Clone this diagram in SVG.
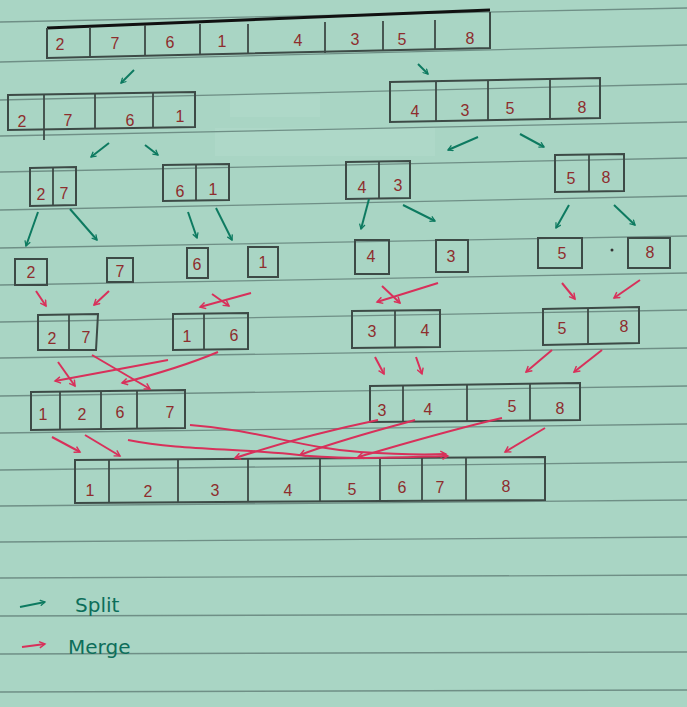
<svg xmlns="http://www.w3.org/2000/svg" width="687" height="707" viewBox="0 0 687 707">
<defs>
<marker id="ag" viewBox="0 0 10 10" refX="8" refY="5" markerWidth="7" markerHeight="7" orient="auto" markerUnits="userSpaceOnUse"><path d="M1,1 L8,5 L1,9" fill="none" stroke="#0d7a60" stroke-width="1.8"/></marker>
<marker id="ar" viewBox="0 0 10 10" refX="8" refY="5" markerWidth="8" markerHeight="8" orient="auto" markerUnits="userSpaceOnUse"><path d="M1,1 L8,5 L1,9" fill="none" stroke="#d8305a" stroke-width="1.8"/></marker>
</defs>
<style>
.paper{stroke:#6f8f86;stroke-width:1.3;fill:none}
.box{fill:none;stroke:#3d4a46;stroke-width:2}
.div{stroke:#3d4a46;stroke-width:1.8}
.n{font-family:"Liberation Sans",Arial,sans-serif;font-size:16px;fill:#8e2d2d;text-anchor:middle}
.g{fill:none;stroke:#0d7a60;stroke-width:2;marker-end:url(#ag)}
.r{fill:none;stroke:#d8305a;stroke-width:2;marker-end:url(#ar)}
.lg{font-family:"DejaVu Sans","Liberation Sans",sans-serif;font-size:20px;fill:#0d6e5a}
</style>
<rect width="687" height="707" fill="#a9d5c4"/>
<rect x="215" y="128" width="220" height="28" fill="#b8e0d1" opacity="0.35"/>
<rect x="230" y="95" width="90" height="22" fill="#b8e0d1" opacity="0.3"/>
<g id="paper-lines">
<path class="paper" d="M0,22 L687,8"/>
<path class="paper" d="M0,62 L687,45"/>
<path class="paper" d="M0,100 L687,84"/>
<path class="paper" d="M0,136 L687,122"/>
<path class="paper" d="M0,172 L687,158"/>
<path class="paper" d="M0,210 L687,196"/>
<path class="paper" d="M0,248 L687,236"/>
<path class="paper" d="M0,285 L687,273"/>
<path class="paper" d="M0,322 L687,310"/>
<path class="paper" d="M0,358 L687,348"/>
<path class="paper" d="M0,396 L687,386"/>
<path class="paper" d="M0,433 L687,424"/>
<path class="paper" d="M0,470 L687,462"/>
<path class="paper" d="M0,506 L687,500"/>
<path class="paper" d="M0,542 L687,537"/>
<path class="paper" d="M0,578 L687,575"/>
<path class="paper" d="M0,616 L687,614"/>
<path class="paper" d="M0,654 L687,652"/>
<path class="paper" d="M0,692 L687,690"/>
</g>

<g id="arr-27614358">
<path d="M47,28 L490,10" stroke="#111" stroke-width="3" fill="none"/>
<path class="box" d="M47,28 L47,58 L490,48 L490,12"/>
<path class="div" d="M90,27 L90,57 M145,25 L145,56 M200,24 L200,55 M248,24 L248,54 M325,22 L325,53 M383,21 L383,51 M435,20 L435,50"/>
<text class="n" x="60" y="50">2</text><text class="n" x="115" y="49">7</text><text class="n" x="170" y="48">6</text><text class="n" x="222" y="47">1</text><text class="n" x="298" y="46">4</text><text class="n" x="355" y="45">3</text><text class="n" x="402" y="45">5</text><text class="n" x="470" y="44">8</text>
</g>

<g id="arr-2761">
<path class="box" d="M8,95 L195,92 L195,127 L8,130 Z"/>
<path class="div" d="M44,94 L44,140 M95,93 L95,129 M153,92 L153,128"/>
<text class="n" x="22" y="127">2</text><text class="n" x="68" y="126">7</text><text class="n" x="130" y="126">6</text><text class="n" x="180" y="122">1</text>
</g>

<g id="arr-4358">
<path class="box" d="M390,82 L600,78 L600,118 L390,122 Z"/>
<path class="div" d="M436,81 L436,121 M488,80 L488,120 M550,79 L550,119"/>
<text class="n" x="415" y="117">4</text><text class="n" x="465" y="116">3</text><text class="n" x="510" y="114">5</text><text class="n" x="582" y="113">8</text>
</g>

<g id="arr-27a">
<path class="box" d="M30,168 L76,167 L76,205 L30,206 Z"/>
<path class="div" d="M53,168 L53,205"/>
<text class="n" x="41" y="200">2</text><text class="n" x="64" y="199">7</text>
</g>
<g id="arr-61a">
<path class="box" d="M163,165 L229,164 L229,200 L163,201 Z"/>
<path class="div" d="M196,165 L196,200"/>
<text class="n" x="180" y="197">6</text><text class="n" x="213" y="195">1</text>
</g>
<g id="arr-43a">
<path class="box" d="M346,162 L410,161 L410,198 L346,199 Z"/>
<path class="div" d="M379,162 L379,198"/>
<text class="n" x="362" y="193">4</text><text class="n" x="398" y="191">3</text>
</g>
<g id="arr-58a">
<path class="box" d="M555,155 L624,154 L624,191 L555,192 Z"/>
<path class="div" d="M589,155 L589,191"/>
<text class="n" x="571" y="184">5</text><text class="n" x="606" y="183">8</text>
</g>

<g id="s2"><rect class="box" x="15" y="259" width="32" height="26"/><text class="n" x="31" y="278">2</text></g>
<g id="s7"><rect class="box" x="107" y="258" width="26" height="24"/><text class="n" x="120" y="277">7</text></g>
<g id="s6"><rect class="box" x="187" y="248" width="21" height="30"/><text class="n" x="197" y="270">6</text></g>
<g id="s1"><rect class="box" x="248" y="247" width="30" height="30"/><text class="n" x="263" y="268">1</text></g>
<g id="s4"><rect class="box" x="355" y="240" width="34" height="34"/><text class="n" x="371" y="262">4</text></g>
<g id="s3"><rect class="box" x="436" y="240" width="32" height="32"/><text class="n" x="451" y="262">3</text></g>
<g id="s5"><rect class="box" x="538" y="238" width="44" height="30"/><text class="n" x="562" y="259">5</text></g>
<g id="s8"><rect class="box" x="628" y="238" width="42" height="30"/><text class="n" x="650" y="258">8</text></g>
<circle cx="612" cy="250" r="1.5" fill="#333"/>

<g id="m27"><path class="box" d="M38,315 L98,314 L96,350 L38,350 Z"/><path class="div" d="M69,315 L69,350"/><text class="n" x="52" y="344">2</text><text class="n" x="86" y="343">7</text></g>
<g id="m16"><path class="box" d="M173,314 L248,313 L248,349 L173,350 Z"/><path class="div" d="M204,314 L204,349"/><text class="n" x="187" y="342">1</text><text class="n" x="234" y="341">6</text></g>
<g id="m34"><path class="box" d="M352,311 L440,310 L440,347 L352,348 Z"/><path class="div" d="M395,311 L395,347"/><text class="n" x="372" y="337">3</text><text class="n" x="425" y="336">4</text></g>
<g id="m58"><path class="box" d="M543,309 L639,307 L639,343 L543,345 Z"/><path class="div" d="M588,308 L588,344"/><text class="n" x="562" y="334">5</text><text class="n" x="624" y="332">8</text></g>

<g id="m1267"><path class="box" d="M31,392 L185,390 L185,428 L31,430 Z"/><path class="div" d="M60,392 L60,429 M101,391 L101,429 M137,391 L137,428"/><text class="n" x="43" y="420">1</text><text class="n" x="82" y="420">2</text><text class="n" x="120" y="418">6</text><text class="n" x="170" y="418">7</text></g>
<g id="m3458"><path class="box" d="M370,386 L580,383 L580,420 L370,422 Z"/><path class="div" d="M403,385 L403,422 M467,385 L467,421 M530,384 L530,420"/><text class="n" x="382" y="416">3</text><text class="n" x="428" y="415">4</text><text class="n" x="512" y="412">5</text><text class="n" x="560" y="414">8</text></g>

<g id="final"><path class="box" d="M75,460 L545,457 L545,500 L75,503 Z"/><path class="div" d="M109,460 L109,502 M178,459 L178,502 M248,459 L248,501 M320,458 L320,501 M380,458 L380,500 M422,458 L422,500 M466,458 L466,500"/>
<text class="n" x="90" y="496">1</text><text class="n" x="148" y="497">2</text><text class="n" x="215" y="496">3</text><text class="n" x="288" y="496">4</text><text class="n" x="352" y="495">5</text><text class="n" x="402" y="493">6</text><text class="n" x="440" y="493">7</text><text class="n" x="506" y="492">8</text></g>

<g id="connectors">
<path class="g" d="M134,70 L121,83"/>
<path class="g" d="M418,64 L428,74"/>
<path class="g" d="M109,143 L91,157"/>
<path class="g" d="M145,145 L158,155"/>
<path class="g" d="M478,137 L448,150"/>
<path class="g" d="M520,134 L544,147"/>
<path class="g" d="M38,212 L26,246"/>
<path class="g" d="M70,209 L97,240"/>
<path class="g" d="M188,212 L197,238"/>
<path class="g" d="M216,208 L232,240"/>
<path class="g" d="M369,199 L361,229"/>
<path class="g" d="M403,205 L435,221"/>
<path class="g" d="M569,205 L556,228"/>
<path class="g" d="M614,205 L635,225"/>

<path class="r" d="M36,291 L46,306"/>
<path class="r" d="M109,291 L94,305"/>
<path class="r" d="M251,293 L200,307"/>
<path class="r" d="M212,294 L229,306"/>
<path class="r" d="M438,283 L377,302"/>
<path class="r" d="M382,286 L400,303"/>
<path class="r" d="M562,283 L575,299"/>
<path class="r" d="M640,280 L614,298"/>

<path class="r" d="M58,362 L75,386"/>
<path class="r" d="M92,355 L150,389"/>
<path class="r" d="M168,360 L55,381"/>
<path class="r" d="M218,352 Q180,368 122,383"/>
<path class="r" d="M375,357 L384,374"/>
<path class="r" d="M416,357 L422,374"/>
<path class="r" d="M552,350 L526,372"/>
<path class="r" d="M602,350 L574,372"/>

<path class="r" d="M52,437 L80,452"/>
<path class="r" d="M85,435 L120,456"/>
<path class="r" d="M128,440 C180,450 230,448 290,454 C340,460 380,458 448,456"/>
<path class="r" d="M190,425 C260,430 300,448 360,452 C390,454 420,455 446,454"/>
<path class="r" d="M378,420 C330,430 290,440 235,458"/>
<path class="r" d="M415,420 C380,430 340,440 300,455"/>
<path class="r" d="M502,418 C450,430 400,445 358,457"/>
<path class="r" d="M545,428 L505,452"/>

<path class="g" d="M20,607 L45,602"/>
<path class="r" d="M22,647 L45,644"/>
</g>
<g id="legend">
<text class="lg" x="75" y="612">Split</text>
<text class="lg" x="68" y="654">Merge</text>
</g>
</svg>
